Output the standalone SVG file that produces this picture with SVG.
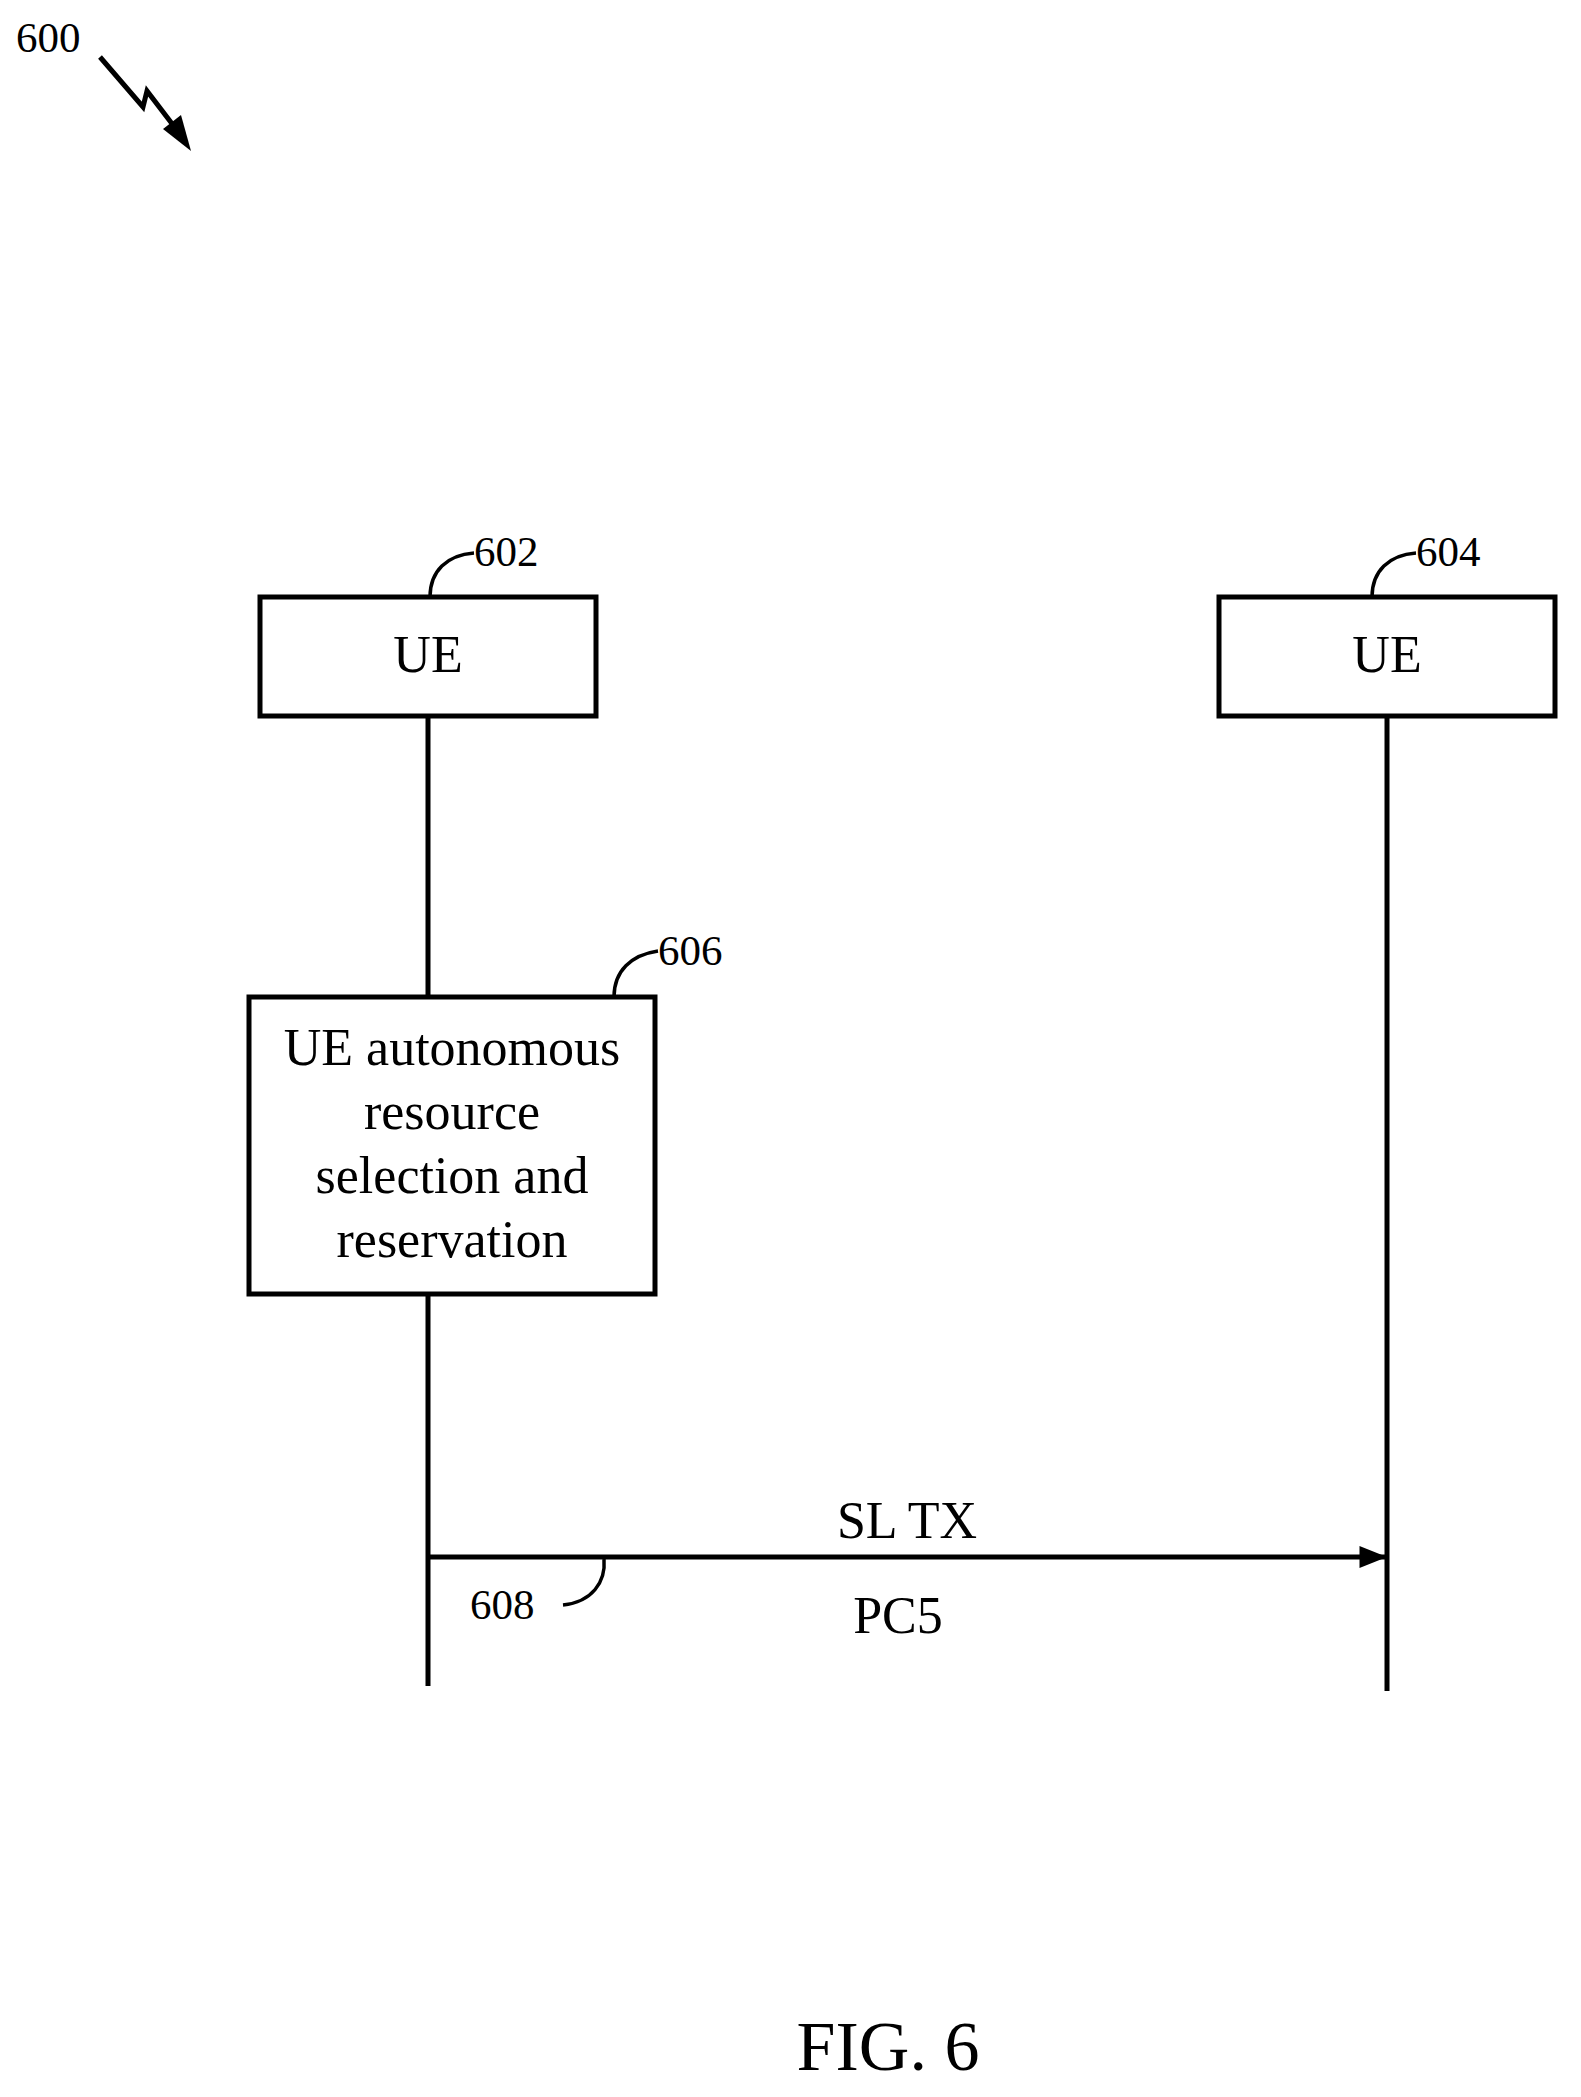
<svg xmlns="http://www.w3.org/2000/svg" width="1581" height="2097" viewBox="0 0 1581 2097">
<style>
text{font-family:"Liberation Serif","Times New Roman",serif;fill:#000}
.t{font-size:52px;text-anchor:middle}
.r{font-size:43px}
.b{fill:#fff;stroke:#000;stroke-width:5}
.l{fill:none;stroke:#000;stroke-width:5}
.c{fill:none;stroke:#000;stroke-width:3.5}
</style>
<defs>
<marker id="ah2" viewBox="0 0 10 8" refX="10" refY="4" markerWidth="38" markerHeight="22" orient="auto" markerUnits="userSpaceOnUse"><path d="M0,0L10,4L0,8z"/></marker></defs>
<g id="ref600">
<text class="r" x="16" y="52">600</text>
<path class="l" d="M100,57L143,107L147,91L173,125"/>
<path d="M191,151L163,129L181,115z"/>
</g>
<g id="connectors">
<line class="l" x1="428" y1="716" x2="428" y2="997"/>
<line class="l" x1="428" y1="1294" x2="428" y2="1686"/>
<line class="l" x1="1387" y1="716" x2="1387" y2="1691"/>
<line class="l" x1="428" y1="1557" x2="1387" y2="1557" marker-end="url(#ah2)"/>
<text class="t" x="907" y="1538">SL TX</text>
<text class="t" x="898" y="1633">PC5</text>
<text class="r" x="470" y="1619">608</text>
<path class="c" d="M563,1605C592,1602 606,1582 604,1559"/>
</g>
<g id="ue602">
<rect class="b" x="260" y="597" width="336" height="119"/>
<text class="t" x="428" y="672">UE</text>
<text class="r" x="474" y="566">602</text>
<path class="c" d="M430,597C430,571 447,555 474,553"/>
</g>
<g id="ue604">
<rect class="b" x="1219" y="597" width="336" height="119"/>
<text class="t" x="1387" y="672">UE</text>
<text class="r" x="1416" y="566">604</text>
<path class="c" d="M1372,597C1372,571 1389,555 1416,553"/>
</g>
<g id="step606">
<rect class="b" x="249" y="997" width="406" height="297"/>
<text class="t" x="452" y="1065">UE autonomous</text>
<text class="t" x="452" y="1129">resource</text>
<text class="t" x="452" y="1193">selection and</text>
<text class="t" x="452" y="1257">reservation</text>
<text class="r" x="658" y="965">606</text>
<path class="c" d="M614,997C614,971 631,955 658,951"/>
</g>
<text x="888" y="2070" style="font-size:70px;text-anchor:middle">FIG. 6</text>
</svg>
